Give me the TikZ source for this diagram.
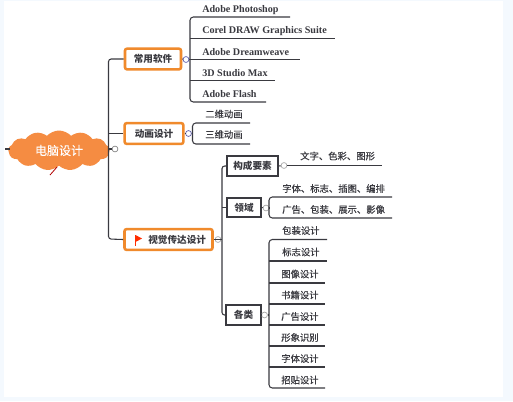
\documentclass[tikz,border=0pt]{standalone}
\usepackage{fontspec}
\setmainfont{Liberation Serif}
\newfontfamily\cjk{Noto Sans CJK SC}
\newfontfamily\cjkm[FakeBold=0.25]{Noto Sans CJK SC}
\usetikzlibrary{shapes.symbols}
\definecolor{ink}{HTML}{3A3A40}
\definecolor{orangeb}{HTML}{F08A2C}
\definecolor{cloudf}{HTML}{F58C42}
\definecolor{edge}{HTML}{F4F9FE}
\tikzset{
  x=0.75pt,y=-0.75pt,
  conn/.style={draw=ink,line width=0.8pt,rounded corners=2pt},
  branch/.style={draw=ink,line width=0.8pt,rounded corners=2.5pt},
  major/.style={draw=orangeb,line width=1.9pt,rounded corners=1.5pt,fill=white,inner sep=0pt,minimum height=15.5pt,font=\cjk\bfseries\fontsize{7.2pt}{9pt}\selectfont,text=ink},
  sub/.style={draw=ink,line width=1.3pt,fill=white,inner sep=0pt,minimum height=14.5pt,font=\cjk\bfseries\fontsize{7.2pt}{9pt}\selectfont,text=ink},
  hub/.style={circle,draw=#1,line width=0.5pt,fill=white,inner sep=0pt,minimum size=4.4pt},
  hub/.default={gray},
  leaf/.style={anchor=west,inner sep=0pt,text=ink,font=\cjkm\fontsize{7pt}{9pt}\selectfont},
  leafen/.style={anchor=west,inner sep=0pt,text=ink,font=\bfseries\fontsize{7.6pt}{9pt}\selectfont},
}
\begin{document}
\begin{tikzpicture}
\useasboundingbox (0,0) rectangle (513,401);
\fill[edge] (0,0) rectangle (513,401);
\fill[white] (4,1) rectangle (503,397);

% root
\node[cloud,cloud puffs=13,cloud puff arc=95,aspect=2.8,fill=cloudf,inner sep=0pt,minimum width=76pt,minimum height=30pt,text=white,font=\cjkm\fontsize{9pt}{11pt}\selectfont] (root) at (59,150.5) {电脑设计};
\coordinate (stubL) at (5,149);
\coordinate (stubR) at (10,149);
\draw[ink,line width=0.8pt] (stubL) -- (stubR);
\coordinate (tailA) at (57,167);
\coordinate (tailB) at (50,175);
\draw[red!70!black,line width=0.6pt] (tailA) -- (tailB);

% major nodes
\node[major,minimum width=42pt] (soft) at (153,59) {常用软件};
\node[major,minimum width=44pt] (anim) at (154,133.5) {动画设计};
\node[major,minimum width=66pt] (visual) at (168.5,239.5) {\hspace{13pt}视觉传达设计};
\fill[red!65!orange] (135.5,235) -- (142,238.5) -- (135.5,242) -- cycle;
\draw[red!65!orange,line width=0.8pt] (135.5,235) -- (135.5,246);

\node[hub] (hroot) at (115,149) {};
\node[hub=blue!30!gray] (hsoft) at (186,59.5) {};
\node[hub=blue!30!gray] (hanim) at (188.5,133.5) {};
\node[hub=gray!70] (hvis) at (218,239.5) {};

\coordinate (tr) at (108.5,149);
\draw[conn] (soft.west) -- (108.5,59) -- (108.5,239) -- (visual.west);
\draw[conn] (anim.west) -- (108.5,133.5);
\draw[conn] (hroot) -- (tr);
\draw[conn] (soft.east) -- (hsoft);
\draw[conn] (anim.east) -- (hanim);
\draw[conn] (visual.east) -- (hvis);

% software leaves
\foreach \n/\y/\e in {1/17/290,2/38.5/335,3/59.5/300,4/80.5/275,5/102/266}
  \coordinate (s\n) at (\e,\y);
\draw[branch] (s1) -- (190,17) -- (190,102) -- (s5);
\draw[conn] (hsoft) -- (190,59.5);
\draw[conn] (190,38.5) -- (s2);
\draw[conn] (190,59.5) -- (s3);
\draw[conn] (190,80.5) -- (s4);
\node[leafen] (t1) at (202,10) {Adobe Photoshop};
\node[leafen] (t2) at (202,31) {Corel DRAW Graphics Suite};
\node[leafen] (t3) at (202,52) {Adobe Dreamweave};
\node[leafen] (t4) at (202,73) {3D Studio Max};
\node[leafen] (t5) at (202,94) {Adobe Flash};

% animation leaves
\coordinate (a1) at (250,123);
\coordinate (a2) at (250,144);
\draw[branch] (a1) -- (192.5,123) -- (192.5,144) -- (a2);
\draw[conn] (hanim) -- (192.5,133.5);
\node[leaf] (a1t) at (205,114) {二维动画};
\node[leaf] (a2t) at (205,134.5) {三维动画};

% sub nodes
\node[sub,minimum width=38pt] (gc) at (252.5,166) {构成要素};
\node[sub,minimum width=25pt] (ly) at (244,207.5) {领域};
\node[sub,minimum width=26pt] (gl) at (243.5,315) {各类};
\draw[conn] (gc.west) -- (222,166) -- (222,315) -- (gl.west);
\draw[conn] (ly.west) -- (222,207.5);
\draw[conn] (visual.east) -- (222,239.5);

\node[hub=gray!70] (hgc) at (284,165.5) {};
\node[hub=gray!70] (hly) at (266,208) {};
\node[hub=gray!70] (hgl) at (264.5,315) {};
\draw[conn] (gc.east) -- (hgc);
\draw[conn] (ly.east) -- (hly);
\draw[conn] (gl.east) -- (hgl);

\coordinate (g1) at (382,165.5);
\draw[conn] (hgc) -- (g1);
\node[leaf] (g1t) at (300,156) {文字、色彩、图形};

\coordinate (l1) at (392,197);
\coordinate (l2) at (392,218);
\draw[branch] (l1) -- (269,197) -- (269,218) -- (l2);
\draw[conn] (hly) -- (269,208);
\node[leaf] (l1t) at (282,188.5) {字体、标志、插图、编排};
\node[leaf] (l2t) at (282,209.5) {广告、包装、展示、影像};

% design leaves
\foreach \n/\y/\e in {1/239.5/327,2/261/327,3/283/325,4/304/325,5/325/325,6/346/325,7/367/325,8/388/325}
  \coordinate (d\n) at (\e,\y);
\draw[branch] (d1) -- (269,239.5) -- (269,388) -- (d8);
\draw[conn] (hgl) -- (269,315);
\foreach \n/\y in {2/261,3/283,4/304,5/325,6/346,7/367}
  \draw[conn] (269,\y) -- (d\n);
\node[leaf] (d1t) at (282,230.5) {包装设计};
\node[leaf] (d2t) at (282,252) {标志设计};
\node[leaf] (d3t) at (281,274) {图像设计};
\node[leaf] (d4t) at (281,295) {书籍设计};
\node[leaf] (d5t) at (281,316.5) {广告设计};
\node[leaf] (d6t) at (281,337.5) {形象识别};
\node[leaf] (d7t) at (281,358.5) {字体设计};
\node[leaf] (d8t) at (281,380) {招贴设计};
\end{tikzpicture}
\end{document}
